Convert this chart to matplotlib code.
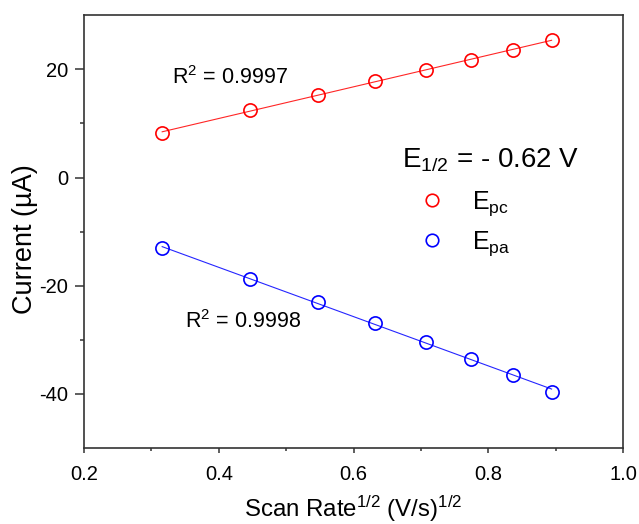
import matplotlib.pyplot as plt
import numpy as np

# Gegevens
scan_rate_sqrt = [0.316, 0.447, 0.548, 0.632, 0.707, 0.775, 0.837, 0.894]
current_pc = [8.3, 12.4, 15.3, 17.8, 19.9, 21.8, 23.6, 25.4]
current_pa = [-13.1, -18.8, -23.1, -26.9, -30.4, -33.5, -36.5, -39.6]
r2_pc = "0.9997"
r2_pa = "0.9998"
e_half = "- 0.62 V"

plt.rcParams['font.family'] = ['Liberation Sans', 'DejaVu Sans']
plt.rcParams['mathtext.fontset'] = 'custom'
plt.rcParams['mathtext.rm'] = 'Liberation Sans'
plt.rcParams['mathtext.it'] = 'Liberation Sans:italic'
plt.rcParams['axes.unicode_minus'] = False


def main():
    fig = plt.figure(figsize=(6.39, 5.24), dpi=100)
    ax = fig.add_axes([0.1315, 0.145, 0.8435, 0.826])

    x = np.array(scan_rate_sqrt)
    for y, color, label in [(current_pc, 'red', r'$\mathrm{E_{pc}}$'),
                            (current_pa, 'blue', r'$\mathrm{E_{pa}}$')]:
        # lineaire fit door de punten
        a, b = np.polyfit(x, y, 1)
        ax.plot(x, a * x + b, color=color, linewidth=0.8, alpha=0.85)
        ax.plot(x, y, linestyle='none', marker='o', markersize=9.5,
                markerfacecolor='none', markeredgecolor=color,
                markeredgewidth=1.2, label=label)

    ax.text(0.331, 18.5, r'$\mathrm{R^2}$ = ' + r2_pc, fontsize=15.5, va='center')
    ax.text(0.35, -26.7, r'$\mathrm{R^2}$ = ' + r2_pa, fontsize=15.5, va='center')

    # titel van de legenda als losse tekst
    ax.text(0.672, 1.85, r'$\mathrm{E_{1/2}}$ = ' + e_half, fontsize=20,
            ha='left', va='baseline')
    ax.legend(fontsize=18, frameon=False, loc='upper left',
              bbox_to_anchor=(0.59, 0.61), handletextpad=0.6, handlelength=2.0,
              labelspacing=0.45, markerscale=0.95, borderpad=0.2,
              borderaxespad=0)

    ax.set_xlim(0.2, 1.0)
    ax.set_ylim(-50, 30)
    ax.set_xticks([0.2, 0.4, 0.6, 0.8, 1.0])
    ax.set_xticks([0.3, 0.5, 0.7, 0.9], minor=True)
    ax.set_yticks([-40, -20, 0, 20])
    ax.set_yticks([-30, -10, 10], minor=True)
    ax.set_xticklabels(['0.2', '0.4', '0.6', '0.8', '1.0'])

    for side in ['left', 'right', 'top', 'bottom']:
        ax.spines[side].set_linewidth(1.2)
        ax.spines[side].set_color('#333333')
    ax.tick_params(axis='both', which='both', direction='out', color='#333333',
                   width=1.1, labelsize=14.5, top=False, right=False)
    ax.tick_params(axis='x', which='major', length=3.5, pad=8.5)
    ax.tick_params(axis='x', which='minor', length=2.5)
    ax.tick_params(axis='y', which='major', length=6.5, pad=5)
    ax.tick_params(axis='y', which='minor', length=3)

    ax.set_xlabel(r'Scan Rate$\mathrm{^{1/2}}$ (V/s)$\mathrm{^{1/2}}$', fontsize=17.3, labelpad=7)
    ax.set_ylabel('Current (µA)', fontsize=19.5)
    ax.yaxis.set_label_coords(-0.085, 0.483)

    fig.savefig('out.png', dpi=100)


if __name__ == "__main__":
    main()
